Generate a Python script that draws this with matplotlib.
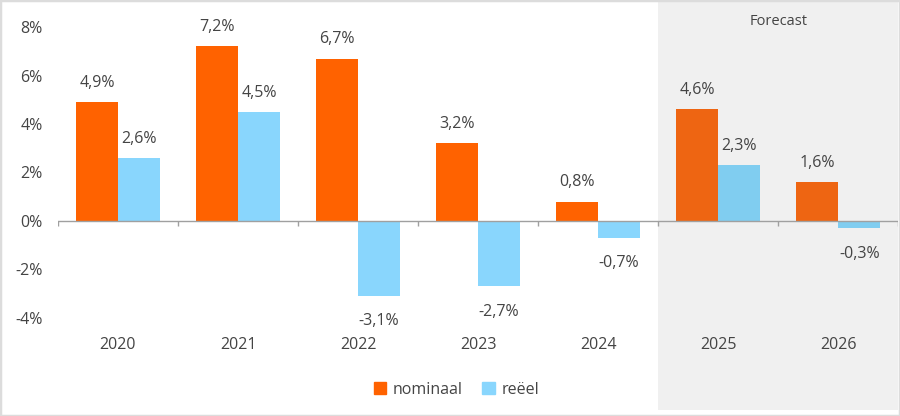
import numpy as np
import matplotlib
matplotlib.use("Agg")
import matplotlib.pyplot as plt
from matplotlib.patches import Rectangle, Patch
from matplotlib.transforms import blended_transform_factory

years = ["2020", "2021", "2022", "2023", "2024", "2025", "2026"]
nominaal = [4.9, 7.2, 6.7, 3.2, 0.8, 4.6, 1.6]
reeel = [2.6, 4.5, -3.1, -2.7, -0.7, 2.3, -0.3]
forecast_from = 5  # index of first forecast year
yticks = [-4, -2, 0, 2, 4, 6, 8]

orange = "#FF6200"
orange_fc = "#EE6512"
blue = "#89D6FD"
blue_fc = "#80CDF0"
text_col = "#444444"

plt.rcParams["font.family"] = ["Open Sans", "DejaVu Sans"]

fig = plt.figure(figsize=(9, 4.16), dpi=100)
ax = fig.add_axes([0.0644, 0.207, 0.9336, 0.757])
ax.set_facecolor("none")

x = np.arange(len(years))
w = 0.35
nom_cols = [orange if i < forecast_from else orange_fc for i in x]
re_cols = [blue if i < forecast_from else blue_fc for i in x]
ax.bar(x - w / 2, nominaal, w, color=nom_cols, zorder=2)
ax.bar(x + w / 2, reeel, w, color=re_cols, zorder=2)

def fmt(v):
    return f"{v:.1f}%".replace(".", ",")

def label(xs, vals):
    for xi, v in zip(xs, vals):
        ax.annotate(fmt(v), (xi, v), xytext=(0, 8 if v >= 0 else -12.5),
                    textcoords="offset points", ha="center",
                    va="bottom" if v >= 0 else "top", fontsize=11.5, color=text_col)

label(x - w / 2, nominaal)
label(x + w / 2, reeel)

ax.set_xlim(-0.5, len(years) - 0.5)
ax.set_ylim(-4.5, 8.5)
ax.set_yticks(yticks)
ax.set_yticklabels([f"{t}%" for t in yticks])
ax.set_xticks(x)
ax.set_xticklabels(years)
ax.tick_params(axis="both", length=0, labelsize=11.5, colors=text_col)
ax.tick_params(axis="y", pad=11)
ax.tick_params(axis="x", pad=5)
for s in ax.spines.values():
    s.set_visible(False)

# zero line with category separators
ax.axhline(0, color="#a0a0a0", lw=1, zorder=3)
ax.vlines(np.arange(-0.5, len(years), 1), -0.2, 0, color="#a0a0a0", lw=1, zorder=3)

# forecast shading spanning full figure height
tr = blended_transform_factory(ax.transData, fig.transFigure)
ax.add_patch(Rectangle((forecast_from - 0.5, 0.015), len(years) - forecast_from, 0.98,
                       transform=tr, facecolor="#f0f0f0", edgecolor="none",
                       zorder=0, clip_on=False))
ax.text((forecast_from - 0.5 + len(years) - 0.5) / 2, 0.948, "Forecast",
        transform=tr, ha="center", va="center", fontsize=10.5, color=text_col)

handles = [Patch(color=orange, label="nominaal"), Patch(color=blue, label="reëel")]
fig.legend(handles=handles, loc="center", bbox_to_anchor=(0.507, 0.063), ncol=2,
           frameon=False, fontsize=11.5, handlelength=0.8, handleheight=0.8,
           handletextpad=0.4, columnspacing=1.2, labelcolor=text_col)

fig.patches.append(Rectangle((0, 0), 1, 1, transform=fig.transFigure, fill=False,
                             edgecolor="#dcdcdc", lw=2.5, zorder=10))

fig.savefig("out.png", dpi=100)
